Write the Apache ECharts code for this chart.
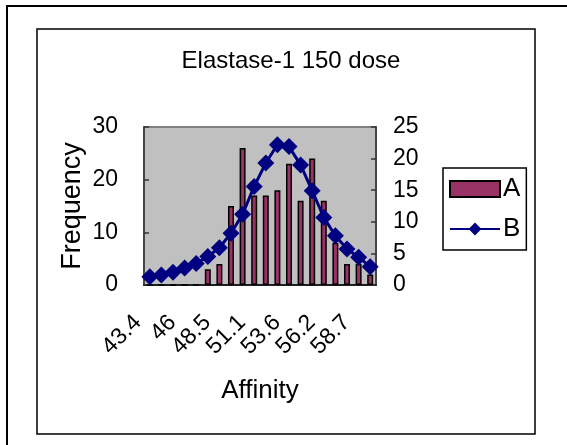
<!DOCTYPE html>
<html>
<head>
<meta charset="utf-8">
<script src="https://cdn.jsdelivr.net/npm/echarts@6/dist/echarts.min.js"></script>
<style>
html,body{margin:0;padding:0;background:#fff;overflow:hidden;}
#c{width:567px;height:445px;}
</style>
</head>
<body>
<div id="c"></div>
<script>
const categories = ['43.4','44.3','45.1','46','46.8','47.7','48.5','49.4','50.2','51.1','51.9','52.8','53.6','54.5','55.3','56.2','57','57.9','58.7','59.6'];
const seriesA = [0,0,0,0,0,3,4,15,26,17,17,18,23,16,24,16,8,4,4,2];
const seriesB = [1.3,1.6,2.0,2.7,3.4,4.5,5.9,8.2,11.2,15.6,19.3,22.2,21.9,19.0,14.9,10.7,7.8,5.7,4.4,2.9];
const leftTicks = [0,10,20,30];
const rightTicks = [0,5,10,15,20,25];

const FONT = "'Liberation Sans', Arial, sans-serif";
const chart = echarts.init(document.getElementById('c'));
chart.setOption({
  animation: false,
  backgroundColor: '#fff',
  graphic: [
    {type:'polyline', shape:{points:[[7,445],[7,6],[567,6]]}, style:{fill:'none',stroke:'#000',lineWidth:2}, silent:true},
    {type:'rect', shape:{x:37,y:29,width:498,height:405}, style:{fill:'none',stroke:'#000',lineWidth:1.5}, silent:true}
  ],
  title: {
    text: 'Elastase-1 150 dose',
    left: 286, top: 44, textAlign: 'center',
    textStyle: {fontFamily: FONT, fontSize: 24, fontWeight: 'normal', color: '#000'}
  },
  legend: {
    orient: 'vertical', left: 443, top: 168,
    padding: [8, 6, 8, 6], itemGap: 14, itemWidth: 50, itemHeight: 16,
    borderColor: '#000', borderWidth: 1.5, backgroundColor: '#fff',
    textStyle: {fontFamily: FONT, fontSize: 26, color: '#000', padding:[0,0,0,-2]},
    data: [{name:'A', icon:'rect'}, {name:'B'}]
  },
  grid: {
    left: 144, right: 191, top: 127, bottom: 160,
    show: true, backgroundColor: '#C0C0C0', borderColor: '#808080', borderWidth: 2
  },
  xAxis: {
    type: 'category', data: categories, boundaryGap: true,
    name: 'Affinity', nameLocation: 'middle', nameGap: 93,
    nameTextStyle: {fontFamily: FONT, fontSize: 26, color: '#000'},
    axisLine: {lineStyle: {color: '#000', width: 1.5}},
    axisTick: {inside: true, length: 5, lineStyle: {color: '#000', width: 1.5}, interval: 0},
    axisLabel: {rotate: 45, interval: 2, margin: 22, padding: [0, 17, 0, 0], fontFamily: FONT, fontSize: 23, color: '#000'},
    splitLine: {show: false}
  },
  yAxis: [
    {
      type: 'value', min: leftTicks[0], max: leftTicks[leftTicks.length-1], interval: 10,
      name: 'Frequency', nameLocation: 'middle', nameGap: 58, nameRotate: 90,
      nameTextStyle: {fontFamily: FONT, fontSize: 27, color: '#000'},
      axisLine: {show: true, lineStyle: {color: '#333', width: 1.5}},
      axisTick: {show: true, inside: true, length: 5, lineStyle: {color: '#333', width: 1.5}},
      axisLabel: {margin: 26, fontFamily: FONT, fontSize: 23, color: '#000'},
      splitLine: {show: false}
    },
    {
      type: 'value', min: rightTicks[0], max: rightTicks[rightTicks.length-1], interval: 5,
      position: 'right',
      axisLine: {show: true, lineStyle: {color: '#333', width: 1.5}},
      axisTick: {show: true, inside: true, length: 5, lineStyle: {color: '#333', width: 1.5}},
      axisLabel: {margin: 17, fontFamily: FONT, fontSize: 23, color: '#000'},
      splitLine: {show: false}
    }
  ],
  series: [
    {
      name: 'A', type: 'bar', yAxisIndex: 0, data: seriesA, barWidth: 6,
      itemStyle: {color: '#993366', borderColor: '#000', borderWidth: 1.5}
    },
    {
      name: 'B', type: 'line', yAxisIndex: 1, data: seriesB,
      symbol: 'diamond', symbolSize: 17, showAllSymbol: true,
      lineStyle: {color: '#000080', width: 3},
      itemStyle: {color: '#000080'}
    }
  ]
});
</script>
</body>
</html>
